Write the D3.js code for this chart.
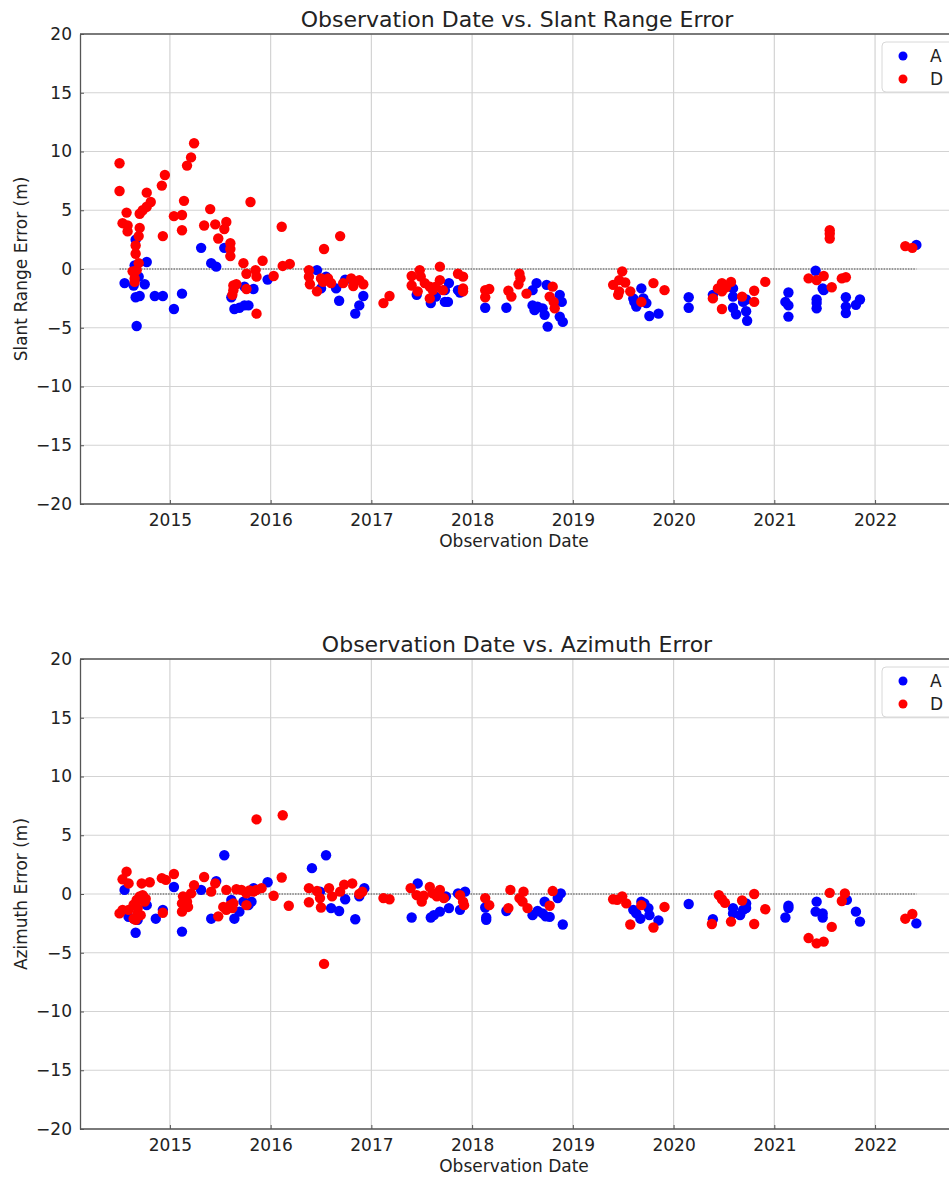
<!DOCTYPE html>
<html>
<head>
<meta charset="utf-8">
<script src="https://cdn.jsdelivr.net/npm/d3@7"></script>
<style>
  body { margin: 0; background: #fff; }
  svg text { font-family: "DejaVu Sans", sans-serif; fill: #222; }
</style>
</head>
<body>
<svg id="chart" width="949" height="1178"></svg>
<script>
// observation dates as decimal years, errors in metres
var yearTicks = [2015, 2016, 2017, 2018, 2019, 2020, 2021, 2022];
var errTicks = [20, 15, 10, 5, 0, -5, -10, -15, -20];

var slantA = [
  [2014.66,2.5],[2015.31,1.8],[2014.77,0.6],[2015.41,0.5],[2015.46,0.2],[2015.54,1.8],[2014.65,0.3],
  [2014.55,-1.2],[2014.64,-1.4],[2014.69,-0.65],[2014.75,-1.3],[2014.66,-2.4],[2014.70,-2.3],
  [2014.85,-2.3],[2014.93,-2.3],[2015.12,-2.1],[2015.04,-3.4],[2014.67,-4.85],[2015.61,-2.4],
  [2015.64,-3.4],[2015.69,-3.3],[2015.74,-3.1],[2015.78,-3.1],[2015.74,-1.5],[2015.83,-1.7],[2015.97,-0.9],
  [2016.46,-0.1],[2016.50,-1.65],[2016.55,-0.65],[2016.65,-1.65],[2016.68,-2.7],[2016.74,-0.9],
  [2016.84,-3.8],[2016.88,-3.1],[2016.92,-2.3],
  [2017.45,-2.2],[2017.59,-2.9],[2017.64,-2.35],[2017.73,-2.8],[2017.76,-2.8],[2017.77,-1.2],[2017.73,-1.8],
  [2017.86,-1.8],[2017.88,-2.0],[2018.13,-3.3],[2018.34,-3.3],
  [2018.64,-1.2],[2018.74,-1.35],[2018.60,-1.8],[2018.60,-3.1],[2018.62,-3.5],[2018.65,-3.2],[2018.70,-3.35],
  [2018.72,-3.9],[2018.75,-4.9],[2018.87,-2.2],[2018.89,-2.8],[2018.87,-4.05],[2018.90,-4.5],
  [2019.60,-2.5],[2019.63,-3.2],[2019.68,-1.65],[2019.73,-2.9],[2019.70,-2.5],[2019.61,-2.8],
  [2019.76,-4.0],[2019.85,-3.8],[2020.15,-2.4],[2020.15,-3.3],[2020.39,-2.2],
  [2020.59,-1.65],[2020.59,-2.35],[2020.69,-2.8],[2020.72,-2.6],[2020.59,-3.3],[2020.62,-3.85],[2020.72,-3.6],[2020.73,-4.4],
  [2021.14,-2.0],[2021.11,-2.8],[2021.14,-3.1],[2021.14,-4.05],[2021.41,-0.15],
  [2021.48,-1.65],[2021.49,-1.8],[2021.42,-2.6],[2021.42,-3.35],[2021.42,-2.9],
  [2021.71,-2.4],[2021.71,-3.2],[2021.71,-3.75],[2021.81,-3.05],[2021.85,-2.6],[2022.41,2.05]
];

var slantD = [
  [2014.50,9.0],[2014.50,6.64],[2014.57,4.8],[2014.53,3.9],[2014.58,3.7],[2014.58,3.2],
  [2014.77,6.5],[2014.81,5.7],[2014.77,5.3],[2014.73,5.0],[2014.70,4.7],[2014.70,3.5],[2014.69,2.8],
  [2014.66,2.0],[2014.66,1.3],[2014.69,0.5],[2014.67,-0.1],[2014.63,-0.2],[2014.65,-0.8],[2014.65,-1.1],
  [2014.93,2.8],[2014.92,7.1],[2014.95,8.0],[2015.04,4.5],[2015.12,4.6],[2015.14,5.8],[2015.12,3.3],
  [2015.17,8.8],[2015.21,9.5],[2015.24,10.7],[2015.34,3.7],[2015.40,5.1],[2015.45,3.8],[2015.56,4.0],
  [2015.54,3.4],[2015.48,2.6],[2015.60,2.2],[2015.60,1.7],[2015.60,1.1],[2015.80,5.7],[2016.11,3.6],
  [2015.73,0.5],[2015.92,0.7],[2015.76,-0.4],[2015.85,-0.1],[2015.86,-0.65],[2016.03,-0.6],
  [2016.12,0.26],[2016.19,0.43],[2015.63,-1.4],[2015.66,-1.3],[2015.63,-1.8],[2015.62,-2.2],
  [2015.76,-1.7],[2015.86,-3.8],
  [2016.53,1.7],[2016.69,2.8],[2016.38,-0.1],[2016.38,-0.65],[2016.39,-1.3],[2016.46,-1.9],
  [2016.50,-0.8],[2016.57,-0.8],[2016.60,-1.2],[2016.52,-1.1],[2016.72,-1.2],[2016.80,-0.8],
  [2016.82,-1.45],[2016.88,-0.95],[2016.92,-1.3],[2017.12,-2.9],[2017.18,-2.3],
  [2017.40,-0.6],[2017.40,-1.4],[2017.48,-0.1],[2017.49,-0.65],[2017.46,-1.9],[2017.53,-1.2],
  [2017.58,-1.5],[2017.58,-2.5],[2017.61,-1.8],[2017.64,-1.5],[2017.68,0.2],[2017.68,-0.95],[2017.71,-1.8],
  [2017.86,-0.4],[2017.91,-0.65],[2017.91,-1.65],[2017.91,-1.9],
  [2018.13,-1.8],[2018.17,-1.7],[2018.13,-2.4],[2018.36,-1.85],[2018.39,-2.35],
  [2018.47,-0.4],[2018.48,-0.8],[2018.46,-1.3],[2018.54,-2.1],
  [2018.80,-1.5],[2018.77,-2.35],[2018.81,-2.8],[2018.82,-3.35],
  [2019.49,-0.2],[2019.40,-1.35],[2019.46,-0.95],[2019.52,-1.15],[2019.45,-2.2],[2019.46,-1.9],
  [2019.57,-1.9],[2019.68,-2.8],[2019.80,-1.2],[2019.91,-1.8],
  [2020.39,-2.5],[2020.44,-1.65],[2020.48,-1.2],[2020.57,-1.1],[2020.52,-1.55],[2020.48,-1.9],
  [2020.48,-3.4],[2020.68,-2.35],[2020.80,-1.85],[2020.80,-2.8],[2020.91,-1.1],
  [2021.34,-0.8],[2021.42,-0.95],[2021.49,-0.6],[2021.57,-1.55],
  [2021.55,3.3],[2021.55,3.0],[2021.55,2.6],[2021.67,-0.8],[2021.71,-0.7],
  [2022.30,1.95],[2022.37,1.8]
];

var azimA = [
  [2014.55,0.35],[2014.64,-2.1],[2014.59,-1.95],[2014.68,-2.2],[2014.66,-3.3],[2014.77,-0.95],
  [2014.86,-2.1],[2014.93,-1.35],[2015.04,0.6],[2015.12,-3.2],[2015.31,0.35],[2015.46,1.1],
  [2015.54,3.3],[2015.41,-2.1],[2015.61,-0.5],[2015.64,-2.1],[2015.69,-1.5],[2015.73,-0.65],
  [2015.78,-0.95],[2015.81,-0.65],[2015.83,0.5],[2015.97,1.0],
  [2016.41,2.2],[2016.55,3.3],[2016.49,0.2],[2016.60,-1.2],[2016.68,-1.45],[2016.74,-0.45],
  [2016.84,-2.15],[2016.88,-0.2],[2016.93,0.5],
  [2017.46,0.9],[2017.40,-2.0],[2017.59,-2.0],[2017.62,-1.8],[2017.68,-1.5],[2017.77,-1.2],
  [2017.74,-0.2],[2017.86,0.05],[2017.93,0.2],[2017.88,-1.35],
  [2018.13,-1.15],[2018.14,-2.0],[2018.14,-2.2],[2018.34,-1.45],
  [2018.60,-1.8],[2018.65,-1.45],[2018.70,-1.65],[2018.73,-1.9],[2018.77,-1.95],[2018.72,-0.65],
  [2018.85,-0.35],[2018.88,0.05],[2018.90,-2.6],
  [2019.60,-1.35],[2019.63,-1.65],[2019.68,-0.65],[2019.71,-0.8],[2019.75,-1.2],[2019.67,-2.1],
  [2019.76,-1.8],[2019.85,-2.25],[2020.15,-0.85],[2020.39,-2.15],
  [2020.59,-1.2],[2020.59,-1.65],[2020.66,-1.8],[2020.69,-1.35],[2020.72,-0.8],[2020.72,-1.2],
  [2021.14,-1.0],[2021.11,-2.0],[2021.14,-1.2],[2021.42,-0.65],[2021.41,-1.5],[2021.48,-1.65],[2021.48,-2.0],
  [2021.72,-0.5],[2021.81,-1.5],[2021.85,-2.35],[2022.41,-2.5]
];

var azimD = [
  [2014.57,1.9],[2014.53,1.25],[2014.59,0.9],[2014.50,-1.65],[2014.53,-1.35],
  [2014.64,-0.9],[2014.67,-0.5],[2014.70,-0.2],[2014.73,-0.1],[2014.75,-0.65],[2014.76,-0.4],
  [2014.68,-1.2],[2014.68,-1.65],[2014.64,-2.1],[2014.66,-2.2],[2014.71,-1.8],[2014.59,-1.35],
  [2014.72,0.9],[2014.80,1.0],[2014.92,1.35],[2014.96,1.2],[2015.04,1.7],[2014.93,-1.6],
  [2015.13,-0.2],[2015.12,-0.8],[2015.12,-1.5],[2015.18,-1.1],[2015.17,-0.65],
  [2015.24,0.75],[2015.34,1.45],[2015.21,0.05],[2015.45,0.9],[2015.41,0.2],[2015.48,-1.9],
  [2015.56,0.35],[2015.53,-1.1],[2015.56,-1.35],[2015.60,-0.95],[2015.62,-1.2],[2015.63,-0.8],
  [2015.66,0.4],[2015.71,0.35],[2015.76,0.05],[2015.79,0.3],[2015.83,0.2],[2015.86,0.35],[2015.91,0.5],
  [2015.76,-0.95],[2016.03,-0.15],[2016.11,1.4],[2016.18,-1.0],
  [2015.86,6.35],[2016.12,6.7],
  [2016.38,0.5],[2016.46,0.25],[2016.38,-0.7],[2016.49,-0.35],[2016.50,-1.15],
  [2016.58,0.5],[2016.61,-0.2],[2016.69,0.2],[2016.73,0.8],[2016.81,0.9],[2016.88,0.0],[2016.91,0.2],
  [2016.53,-5.95],[2017.12,-0.35],[2017.18,-0.45],
  [2017.39,0.5],[2017.45,-0.1],[2017.50,-0.65],[2017.52,-0.15],[2017.58,0.6],[2017.61,0.05],
  [2017.68,0.35],[2017.65,-0.2],[2017.72,-0.35],[2017.88,-0.1],[2017.91,-0.65],[2017.92,-0.95],
  [2018.13,-0.35],[2018.17,-0.95],
  [2018.38,0.35],[2018.47,-0.35],[2018.51,0.2],[2018.50,-0.65],[2018.55,-1.2],[2018.36,-1.2],
  [2018.80,0.25],[2018.77,-1.0],
  [2019.40,-0.45],[2019.44,-0.5],[2019.49,-0.2],[2019.53,-0.8],[2019.57,-2.6],[2019.68,-0.95],
  [2019.80,-2.85],[2019.91,-1.1],
  [2020.38,-2.55],[2020.45,-0.1],[2020.48,-0.45],[2020.51,-0.75],[2020.57,-2.35],[2020.68,-0.55],
  [2020.80,0.0],[2020.80,-2.55],[2020.91,-1.3],
  [2021.34,-3.75],[2021.42,-4.2],[2021.49,-4.05],[2021.55,0.1],[2021.57,-2.8],
  [2021.67,-0.6],[2021.70,0.05],[2022.30,-2.1],[2022.37,-1.7]
];

var svg = d3.select("#chart");

var left = 80, right = 948, plotH = 470;
var x = d3.scaleLinear().domain([2014.1076, 2022.724]).range([left, right]);

var allDates = slantA.concat(slantD).map(function(d){ return d[0]; });
var firstDate = d3.min(allDates), lastDate = d3.max(allDates);

function drawPanel(top, title, yLabel, dataA, dataD) {
  var y = d3.scaleLinear().domain([-20, 20]).range([top + plotH, top]);
  var g = svg.append("g");

  // grid
  g.selectAll(".gx").data(yearTicks).enter().append("line")
    .attr("x1", function(d){ return x(d); }).attr("x2", function(d){ return x(d); })
    .attr("y1", top).attr("y2", top + plotH)
    .attr("stroke", "#d3d3d3").attr("stroke-width", 1.2);
  g.selectAll(".gy").data(errTicks).enter().append("line")
    .attr("x1", left).attr("x2", 949)
    .attr("y1", function(d){ return y(d); }).attr("y2", function(d){ return y(d); })
    .attr("stroke", "#d3d3d3").attr("stroke-width", 1.2);

  // axes (figure is cropped on the right, so no right spine)
  var xAxis = d3.axisBottom(x).tickValues(yearTicks).tickFormat(d3.format("d"))
    .tickSizeInner(-4).tickSizeOuter(0).tickPadding(10);
  var gx = g.append("g").attr("transform", "translate(0," + (top + plotH) + ")").call(xAxis);
  var yAxis = d3.axisLeft(y).tickValues(errTicks)
    .tickFormat(function(d){ return d < 0 ? "\u2212" + Math.abs(d) : d; })
    .tickSizeInner(-4).tickSizeOuter(0).tickPadding(8);
  var gy = g.append("g").attr("transform", "translate(" + left + ",0)").call(yAxis);
  [gx, gy].forEach(function(a){
    a.select(".domain").attr("stroke", "#555").attr("stroke-width", 1.3);
    a.selectAll(".tick line").attr("stroke", "#555");
    a.selectAll(".tick text").attr("font-size", 17).attr("fill", "#222")
      .attr("font-family", "DejaVu Sans, sans-serif");
  });
  gx.select(".domain").attr("d", "M" + left + ",0H949");
  g.append("line").attr("x1", left).attr("x2", 949).attr("y1", top).attr("y2", top)
    .attr("stroke", "#555").attr("stroke-width", 1.3);

  // zero reference
  g.append("line")
    .attr("x1", x(firstDate)).attr("x2", x(lastDate))
    .attr("y1", y(0)).attr("y2", y(0))
    .attr("stroke", "#333").attr("stroke-width", 0.9).attr("stroke-dasharray", "1.5,1.2");

  g.append("g").selectAll("circle").data(dataA).enter().append("circle")
    .attr("cx", function(d){ return x(d[0]); }).attr("cy", function(d){ return y(d[1]); })
    .attr("r", 5.2).attr("fill", "#0000ff");
  g.append("g").selectAll("circle").data(dataD).enter().append("circle")
    .attr("cx", function(d){ return x(d[0]); }).attr("cy", function(d){ return y(d[1]); })
    .attr("r", 5.2).attr("fill", "#ff0000");

  // titles
  g.append("text").attr("x", 517).attr("y", top - 7)
    .attr("text-anchor", "middle").attr("font-size", 22).text(title);
  g.append("text").attr("x", 514).attr("y", top + plotH + 43)
    .attr("text-anchor", "middle").attr("font-size", 17).text("Observation Date");
  g.append("text").attr("transform", "translate(27," + (top + plotH / 2) + ") rotate(-90)")
    .attr("text-anchor", "middle").attr("font-size", 17).text(yLabel);

  // legend
  var lg = g.append("g").attr("transform", "translate(882," + (top + 8) + ")");
  lg.append("rect").attr("x", 0).attr("y", 0).attr("width", 80).attr("height", 50)
    .attr("rx", 4).attr("fill", "#fff").attr("fill-opacity", 0.8)
    .attr("stroke", "#d8d8d8");
  [["A", "#0000ff"], ["D", "#ff0000"]].forEach(function(e, i){
    lg.append("circle").attr("cx", 21).attr("cy", 14 + i * 23).attr("r", 4.5).attr("fill", e[1]);
    lg.append("text").attr("x", 48).attr("y", 14 + i * 23 + 6).attr("font-size", 17).text(e[0]);
  });
}

drawPanel(34, "Observation Date vs. Slant Range Error", "Slant Range Error (m)", slantA, slantD);
drawPanel(659, "Observation Date vs. Azimuth Error", "Azimuth Error (m)", azimA, azimD);
</script>
</body>
</html>
